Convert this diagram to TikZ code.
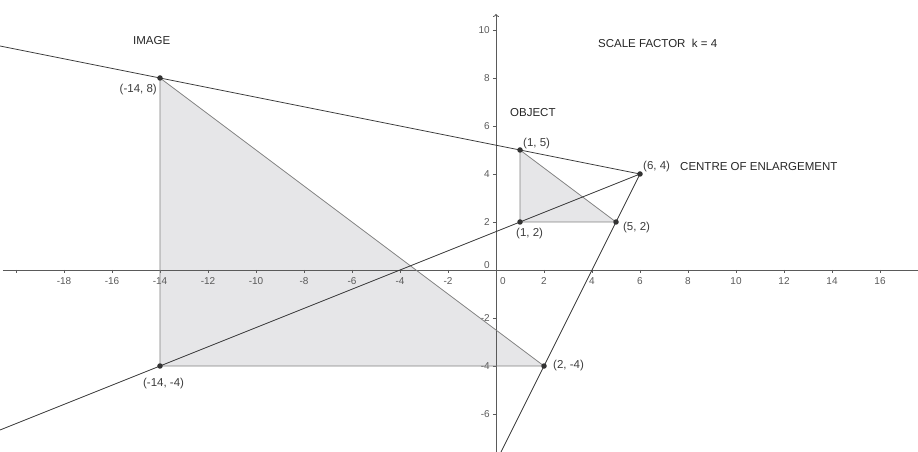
\documentclass[tikz,border=0pt]{standalone}
\usepackage{fontspec}
\setmainfont{Liberation Sans}
\usetikzlibrary{arrows.meta}
\definecolor{fillgrey}{HTML}{E6E6E8}
\definecolor{edgegrey}{HTML}{808080}
\definecolor{linegrey}{HTML}{333333}
\definecolor{axisgrey}{HTML}{5A5A5A}
\definecolor{labelgrey}{HTML}{3C3C3C}
\begin{document}
\begin{tikzpicture}[x=24pt,y=24pt,
  axisline/.style={draw=axisgrey,line width=0.8pt},
  tickline/.style={draw=axisgrey,line width=0.6pt},
  ticklab/.style={inner sep=0pt,text=axisgrey,font=\fontsize{10}{12}\selectfont},
  ray/.style={draw=linegrey,line width=0.75pt},
  tri/.style={fill=fillgrey,draw=edgegrey,line width=0.75pt},
  dot/.style={circle,fill=linegrey,inner sep=0pt,minimum size=5.5pt},
  ptlab/.style={inner sep=0pt,text=labelgrey,font=\fontsize{11.5}{13}\selectfont},
  title/.style={inner sep=0pt,text=black!85,font=\fontsize{11.5}{13}\selectfont}]
\useasboundingbox (-20.6667,-7.5833) rectangle (17.5833,11.25);
% points
\coordinate (Oa) at (1,5);
\coordinate (Ob) at (1,2);
\coordinate (Oc) at (5,2);
\coordinate (Ia) at (-14,8);
\coordinate (Ib) at (-14,-4);
\coordinate (Ic) at (2,-4);
\coordinate (C) at (6,4);
\coordinate (eA) at (-20.6667,9.3333);
\coordinate (eB) at (-20.6667,-6.6667);
\coordinate (eC) at (0.2083,-7.5833);
% triangle fills
\fill[fillgrey] (Ia) -- (Ib) -- (Ic) -- cycle;
\fill[fillgrey] (Oa) -- (Ob) -- (Oc) -- cycle;
% axes
\coordinate (xl) at (-20.55,0);
\coordinate (xr) at (17.5833,0);
\coordinate (yb) at (0,-7.5833);
\coordinate (yt) at (0,10.67);
\draw[axisline] (xl) -- (xr);
\draw[axisline,-{To[length=3pt,width=6pt]}] (yb) -- (yt);
\foreach \x in {-20,-18,...,16} \draw[tickline] (\x,0) -- (\x,-0.13);
\foreach \y in {-6,-4,...,10} \draw[tickline] (-0.13,\y) -- (0,\y);
\foreach \x in {-18,-16,...,-2,2,4,...,16} \node[ticklab] at (\x,-0.46) {\x};
\node[ticklab] at (0.29,-0.46) {0};
\foreach \y in {-6,-4,-2,2,4,6,8,10} \node[ticklab,anchor=east] at (-0.25,\y) {\y};
\node[ticklab,anchor=east] at (-0.25,0.21) {0};
% triangle edges
\draw[tri,fill=none] (Ia) -- (Ib) -- (Ic) -- cycle;
\draw[tri,fill=none] (Oa) -- (Ob) -- (Oc) -- cycle;
% rays from centre
\draw[ray] (C) -- (eA);
\draw[ray] (C) -- (eB);
\draw[ray] (C) -- (eC);
% dots
\foreach \p in {Oa,Ob,Oc,Ia,Ib,Ic,C} \node[dot] at (\p) {};
% labels
\node[ptlab,anchor=west] (lOa) at (1.125,5.29) {(1, 5)};
\node[ptlab,anchor=west] (lOb) at (0.833,1.54) {(1, 2)};
\node[ptlab,anchor=west] (lOc) at (5.29,1.79) {(5, 2)};
\node[ptlab,anchor=west] (lC) at (6.125,4.33) {(6, 4)};
\node[title,anchor=west] (tC) at (7.667,4.33) {CENTRE OF ENLARGEMENT};
\node[title,anchor=west] (tS) at (4.25,9.46) {SCALE FACTOR~~k = 4};
\node[title,anchor=west] (tI) at (-15.125,9.54) {IMAGE};
\node[title,anchor=west] (tO) at (0.583,6.54) {OBJECT};
\node[ptlab,anchor=east] (lIa) at (-14.125,7.5) {(-14, 8)};
\node[ptlab] (lIb) at (-13.85,-4.75) {(-14, -4)};
\node[ptlab,anchor=west] (lIc) at (2.375,-4.0) {(2, -4)};
\end{tikzpicture}
\end{document}
